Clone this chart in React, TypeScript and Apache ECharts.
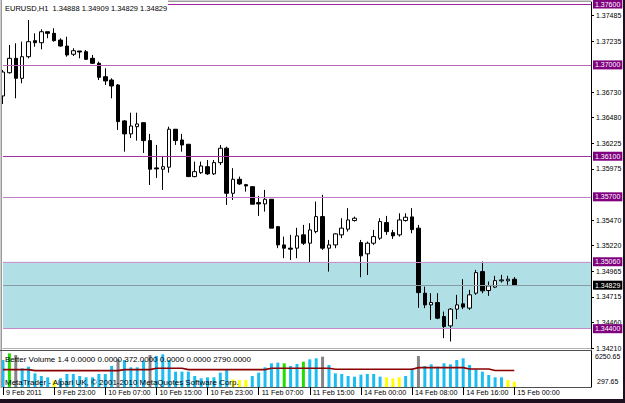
import React, { useEffect, useRef } from "react";
import * as echarts from "echarts";

const FONT = '"Liberation Sans", Arial, sans-serif';

// trading sessions (day, first hour, last hour) -> hourly categories
const sessions: [string, number, number][] = [
  ["9 Feb", 15, 23],
  ["10 Feb", 0, 23],
  ["11 Feb", 0, 22],
  ["14 Feb", 0, 23],
  ["15 Feb", 0, 0],
];
const barTimes: string[] = [];
for (const [d, a, b] of sessions) {
  for (let h = a; h <= b; h++) barTimes.push(`${d} ${String(h).padStart(2, "0")}:00`);
}
const FUTURE_SLOTS = 12;
const categories = [
  ...barTimes,
  ...Array.from({ length: FUTURE_SLOTS }, (_, i) => `future-${i}`),
];

const xTickLabels = [
  "9 Feb 2011", "9 Feb 23:00", "10 Feb 07:00", "10 Feb 15:00", "10 Feb 23:00",
  "11 Feb 07:00", "11 Feb 15:00", "14 Feb 00:00", "14 Feb 08:00", "14 Feb 16:00", "15 Feb 00:00",
];

// [open, close, low, high]
const candles: number[][] = [
  [1.36694, 1.36930, 1.36615, 1.36950],
  [1.36923, 1.37065, 1.36915, 1.37196],
  [1.37065, 1.36868, 1.36671, 1.37213],
  [1.36868, 1.37081, 1.36819, 1.37229],
  [1.37081, 1.37229, 1.37065, 1.37442],
  [1.37239, 1.37219, 1.37179, 1.37311],
  [1.37219, 1.37327, 1.37154, 1.37351],
  [1.37327, 1.37311, 1.37262, 1.37327],
  [1.37311, 1.37239, 1.37229, 1.37361],
  [1.37245, 1.37186, 1.37179, 1.37262],
  [1.37186, 1.37098, 1.37081, 1.37278],
  [1.37105, 1.37140, 1.37088, 1.37164],
  [1.37137, 1.37127, 1.37065, 1.37137],
  [1.37130, 1.37055, 1.37048, 1.37147],
  [1.37065, 1.37016, 1.37009, 1.37098],
  [1.37016, 1.36878, 1.36851, 1.37032],
  [1.36884, 1.36842, 1.36802, 1.36967],
  [1.36851, 1.36792, 1.36671, 1.36868],
  [1.36802, 1.36441, 1.36359, 1.36812],
  [1.36448, 1.36320, 1.36145, 1.36457],
  [1.36320, 1.36398, 1.36280, 1.36529],
  [1.36391, 1.36418, 1.36254, 1.36529],
  [1.36431, 1.36254, 1.36132, 1.36431],
  [1.36254, 1.35972, 1.35817, 1.36320],
  [1.35985, 1.35975, 1.35886, 1.36211],
  [1.35972, 1.35997, 1.35768, 1.36103],
  [1.35992, 1.36366, 1.35938, 1.36391],
  [1.36366, 1.36254, 1.36211, 1.36366],
  [1.36260, 1.36211, 1.36145, 1.36320],
  [1.36218, 1.35899, 1.35899, 1.36218],
  [1.35899, 1.35948, 1.35893, 1.36047],
  [1.35938, 1.36004, 1.35926, 1.36047],
  [1.35997, 1.35926, 1.35916, 1.36063],
  [1.35926, 1.36037, 1.35916, 1.36063],
  [1.36037, 1.36179, 1.36014, 1.36211],
  [1.36179, 1.35735, 1.35620, 1.36194],
  [1.35735, 1.35873, 1.35669, 1.35982],
  [1.35873, 1.35827, 1.35817, 1.35899],
  [1.35820, 1.35807, 1.35751, 1.35827],
  [1.35800, 1.35627, 1.35627, 1.35800],
  [1.35643, 1.35630, 1.35512, 1.35709],
  [1.35630, 1.35676, 1.35554, 1.35768],
  [1.35676, 1.35391, 1.35391, 1.35676],
  [1.35406, 1.35226, 1.35194, 1.35413],
  [1.35226, 1.35194, 1.35095, 1.35308],
  [1.35194, 1.35184, 1.35078, 1.35325],
  [1.35194, 1.35315, 1.35095, 1.35394],
  [1.35325, 1.35243, 1.35226, 1.35423],
  [1.35243, 1.35374, 1.35052, 1.35440],
  [1.35357, 1.35505, 1.35341, 1.35653],
  [1.35505, 1.35194, 1.35177, 1.35719],
  [1.35194, 1.35226, 1.34963, 1.35275],
  [1.35226, 1.35335, 1.35194, 1.35341],
  [1.35325, 1.35391, 1.35292, 1.35489],
  [1.35381, 1.35472, 1.35357, 1.35588],
  [1.35466, 1.35489, 1.35456, 1.35505],
  [1.35249, 1.35118, 1.34907, 1.35275],
  [1.35138, 1.35243, 1.34929, 1.35259],
  [1.35243, 1.35308, 1.35226, 1.35374],
  [1.35292, 1.35456, 1.35275, 1.35489],
  [1.35446, 1.35357, 1.35325, 1.35512],
  [1.35347, 1.35315, 1.35285, 1.35374],
  [1.35325, 1.35472, 1.35308, 1.35538],
  [1.35466, 1.35499, 1.35456, 1.35538],
  [1.35502, 1.35377, 1.35341, 1.35588],
  [1.35391, 1.34756, 1.34606, 1.35423],
  [1.34750, 1.34635, 1.34603, 1.34815],
  [1.34635, 1.34658, 1.34487, 1.34750],
  [1.34658, 1.34504, 1.34494, 1.34750],
  [1.34520, 1.34421, 1.34307, 1.34569],
  [1.34428, 1.34593, 1.34274, 1.34603],
  [1.34593, 1.34635, 1.34494, 1.34734],
  [1.34645, 1.34613, 1.34593, 1.34888],
  [1.34603, 1.34734, 1.34586, 1.34783],
  [1.34750, 1.34953, 1.34734, 1.34980],
  [1.34963, 1.34773, 1.34750, 1.35062],
  [1.34776, 1.34822, 1.34724, 1.34865],
  [1.34810, 1.34874, 1.34800, 1.34921],
  [1.34872, 1.34881, 1.34855, 1.34931],
  [1.34872, 1.34888, 1.34832, 1.34921],
  [1.34888, 1.34829, 1.34829, 1.34909],
];

const volumes = [
  4563, 5690, 5408, 3155, 3436, 2310, 1859, 1634, 1070, 1465,
  2197, 2197, 1859, 1634, 1634, 2197, 2197, 3549, 4676, 4563,
  3324, 3324, 4450, 5408, 5239, 5521, 4563, 2591, 2591, 2591,
  1859, 1465, 1634, 1634, 2422, 2873, 1296, 1183, 1183, 1859,
  2422, 3324, 4000, 4112, 4000, 3549, 3887, 4281, 4676, 4845,
  5126, 3718, 2310, 2197, 1859, 1746, 2084, 2197, 2197, 1746,
  1634, 1465, 1634, 1859, 3155, 5239, 3549, 3831, 3436, 4000,
  3831, 4563, 4845, 3718, 2986, 2591, 2028, 1634, 1634, 1183,
  901,
];

// Better Volume classes: B = normal, G = climax, S = churn, Y = low volume
const volumeClass = [
  "B", "G", "S", "B", "B", "B", "B", "B", "Y", "B",
  "B", "B", "B", "B", "B", "B", "B", "B", "S", "B",
  "B", "B", "B", "S", "B", "B", "B", "B", "B", "B",
  "B", "B", "B", "B", "B", "B", "Y", "Y", "Y", "B",
  "B", "B", "B", "B", "G", "B", "B", "G", "B", "B",
  "S", "B", "B", "B", "B", "B", "B", "B", "B", "B",
  "Y", "Y", "Y", "B", "B", "S", "B", "B", "B", "B",
  "B", "B", "B", "B", "B", "B", "B", "B", "B", "Y",
  "Y",
];

const volumeAverage = [
  2930, 2930, 2930, 2930, 2930,
  2760, 2760, 2760, 2760, 2760, 2760, 2760, 2760, 2760, 2760, 2760, 2760, 2760, 2760,
  2930, 2930, 2930, 2930, 2930,
  3155, 3155, 3155, 3155, 3155,
  2930, 2930, 2930, 2930, 2930, 2930, 2930, 2930, 2930, 2930, 2930, 2930, 2930,
  3155, 3155, 3155, 3155, 3155, 3155, 3155, 3155, 3155, 3155,
  2990, 2990, 2990, 2990, 2990, 2990, 2990, 2990, 2990, 2990, 2990, 2990, 2990,
  3270, 3270, 3270, 3270, 3270, 3270, 3270, 3270,
  3040, 3040, 3040, 3040,
  2800, 2800, 2800, 2800,
];

// price scale labels (those hidden under the level labels are left out)
const priceTicks = [
  1.37485, 1.37235, 1.3673, 1.3648, 1.36225, 1.35975,
  1.3547, 1.3522, 1.34965, 1.34715, 1.3446, 1.3421,
];
const levels = [1.376, 1.37, 1.361, 1.357, 1.3506, 1.344];
const bandTop = 1.3506;
const bandBottom = 1.344;
const currentPrice = 1.34829;
const volumeMax = 6250.65;
const volumeMinLabel = 297.65;
const titleText = "EURUSD,H1  1.34888 1.34909 1.34829 1.34829";
const indicatorText = "Better Volume 1.4 0.0000 0.0000 372.0000 0.0000 0.0000 2790.0000";
const copyrightText = "MetaTrader - Alpari UK, \u00a9 2001-2010 MetaQuotes Software Corp.";

const levelColors = ["#A020A0", "#B466B4", "#A030A0", "#C080C8", "#D090D0", "#C888CC"];
const classColors: Record<string, string> = {
  B: "#1EBCF0",
  G: "#22DD00",
  S: "#858585",
  Y: "#FFFF00",
};

const LAST_BAR = barTimes.length - 1;

function buildOption() {
  const levelLabel = (bg: string) => ({
    show: true,
    position: "end" as const,
    distance: 2,
    backgroundColor: bg,
    color: "#ffffff",
    padding: [1, 2, 0, 2],
    lineHeight: 8,
    fontSize: 7,
    fontFamily: FONT,
  });
  return {
    animation: false,
    backgroundColor: "#ffffff",
    textStyle: { fontFamily: FONT },
    grid: [
      { left: 3, right: 34, top: 2, height: 346 },
      { left: 3, right: 34, top: 350, height: 37 },
    ],
    xAxis: [
      {
        type: "category",
        gridIndex: 0,
        data: categories,
        boundaryGap: false,
        axisLine: { show: true, lineStyle: { color: "#B0B0B0", width: 1 } },
        axisTick: { show: false },
        axisLabel: { show: false },
        splitLine: { show: false },
      },
      {
        type: "category",
        gridIndex: 1,
        data: categories,
        boundaryGap: false,
        axisLine: { show: true, lineStyle: { color: "#505050", width: 1 } },
        axisTick: {
          show: true,
          length: 8,
          interval: (i: number) => i % 8 === 0 && i <= LAST_BAR,
          lineStyle: { color: "#000000" },
        },
        axisLabel: {
          interval: (i: number) => i % 8 === 0 && i <= LAST_BAR,
          formatter: (_v: string, i: number) =>
            i % 8 === 0 && i <= LAST_BAR ? xTickLabels[i / 8] : "",
          align: "left",
          padding: [0, 0, 0, 3],
          margin: 2,
          fontSize: 7.2,
          color: "#000000",
          fontFamily: FONT,
        },
        splitLine: { show: false },
      },
    ],
    yAxis: [
      {
        type: "value",
        gridIndex: 0,
        position: "right",
        min: 1.3421,
        max: 1.3762,
        axisLine: { show: true, lineStyle: { color: "#000000" } },
        axisTick: { show: true, length: 3, customValues: priceTicks, lineStyle: { color: "#000000" } },
        axisLabel: {
          customValues: priceTicks,
          formatter: (v: number) => v.toFixed(5),
          fontSize: 7,
          lineHeight: 7,
          color: "#000000",
          margin: 5,
          fontFamily: FONT,
        },
        splitLine: { show: false },
      },
      {
        type: "value",
        gridIndex: 1,
        position: "right",
        min: 0,
        max: volumeMax,
        axisLine: { show: true, lineStyle: { color: "#000000" } },
        axisTick: { show: false },
        axisLabel: {
          customValues: [volumeMax],
          formatter: (v: number) => v.toFixed(2),
          verticalAlign: "top",
          padding: [3, 0, 0, 0],
          fontSize: 7,
          color: "#000000",
          margin: 4,
          fontFamily: FONT,
        },
        splitLine: { show: false },
      },
      {
        type: "value",
        gridIndex: 1,
        position: "right",
        min: 0,
        max: volumeMax,
        axisLine: { show: false },
        axisTick: { show: false },
        axisLabel: {
          customValues: [volumeMinLabel],
          formatter: (v: number) => v.toFixed(2),
          verticalAlign: "bottom",
          fontSize: 7,
          color: "#000000",
          margin: 6,
          fontFamily: FONT,
        },
        splitLine: { show: false },
      },
    ],
    series: [
      {
        type: "line",
        name: "objects",
        xAxisIndex: 0,
        yAxisIndex: 0,
        data: [],
        z: 1,
        silent: true,
        markArea: {
          silent: true,
          itemStyle: { color: "#B0E0E6" },
          data: [[{ yAxis: bandTop }, { yAxis: bandBottom }]],
        },
        markLine: {
          silent: true,
          precision: 5,
          symbol: ["none", "none"],
          data: [
            ...levels.map((v, i) => ({
              yAxis: v,
              lineStyle: { color: levelColors[i], width: 1, type: "solid" },
              label: { ...levelLabel("#800080"), formatter: v.toFixed(5) },
            })),
            {
              yAxis: currentPrice,
              lineStyle: { color: "#8A9AA2", width: 1, type: "solid" },
              label: { ...levelLabel("#000000"), formatter: currentPrice.toFixed(5) },
            },
          ],
        },
      },
      {
        type: "candlestick",
        name: "EURUSD,H1",
        xAxisIndex: 0,
        yAxisIndex: 0,
        z: 3,
        barWidth: 4,
        data: candles,
        itemStyle: {
          color: "#ffffff",
          color0: "#000000",
          borderColor: "#000000",
          borderColor0: "#000000",
          borderWidth: 1,
        },
      },
      {
        type: "bar",
        name: "Better Volume",
        xAxisIndex: 1,
        yAxisIndex: 1,
        barWidth: 3,
        data: volumes.map((v, i) => ({
          value: v,
          itemStyle: { color: classColors[volumeClass[i]] },
        })),
      },
      {
        type: "line",
        name: "Volume average",
        xAxisIndex: 1,
        yAxisIndex: 1,
        symbol: "none",
        data: volumeAverage,
        lineStyle: { color: "#8B0000", width: 1.6 },
        z: 4,
      },
    ],
    graphic: [
      { type: "rect", z: 99, shape: { x: 168, y: 0.5, width: 423, height: 1.5 }, style: { fill: "#A0A0A0" } },
      { type: "rect", z: 100, shape: { x: 0, y: 0, width: 168, height: 11 }, style: { fill: "#ffffff" } },
      {
        type: "text",
        z: 101,
        x: 5,
        y: 8,
        style: { text: titleText, fill: "#000000", font: `7.5px ${FONT}`, verticalAlign: "middle" },
      },
      { type: "rect", z: 100, shape: { x: 0.5, y: 0, width: 1.5, height: 388 }, style: { fill: "#9A9A9A" } },
      { type: "rect", z: 100, shape: { x: 0, y: 350, width: 592, height: 1 }, style: { fill: "#505050" } },
      {
        type: "text",
        z: 101,
        x: 5,
        y: 359,
        style: { text: indicatorText, fill: "#000000", font: `8px ${FONT}`, verticalAlign: "middle" },
      },
      {
        type: "text",
        z: 101,
        x: 5,
        y: 382,
        style: { text: copyrightText, fill: "#000000", font: `8px ${FONT}`, verticalAlign: "middle" },
      },
      { type: "rect", z: 102, shape: { x: 623, y: 0, width: 2, height: 403 }, style: { fill: "#1E101E" } },
      { type: "rect", z: 102, shape: { x: 0, y: 399, width: 625, height: 4 }, style: { fill: "#1E101E" } },
    ],
  };
}

export default function App() {
  const ref = useRef<HTMLDivElement>(null);
  useEffect(() => {
    document.body.style.margin = "0";
    if (!ref.current) return;
    const chart = echarts.init(ref.current, null, { renderer: "svg" });
    chart.setOption(buildOption() as any);
    return () => chart.dispose();
  }, []);
  return <div ref={ref} style={{ width: 625, height: 403 }} />;
}
